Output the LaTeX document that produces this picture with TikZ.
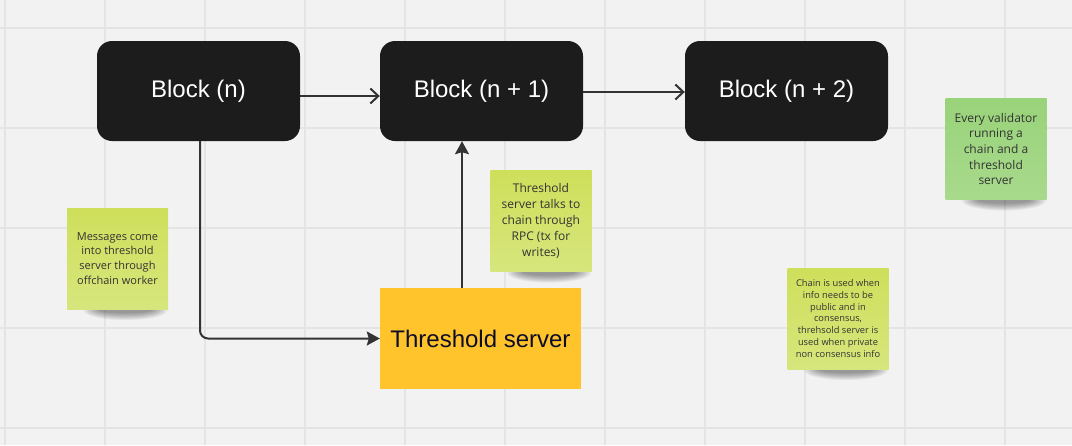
\documentclass[tikz,border=0pt]{standalone}
\usepackage{fontspec}
\setmainfont{Liberation Sans}
\newfontfamily\notefont{Open Sans}
\usetikzlibrary{backgrounds,arrows.meta}
\definecolor{boardbg}{HTML}{F2F2F2}
\definecolor{boardgrid}{HTML}{E4E4E4}
\definecolor{blockfill}{HTML}{1C1C1C}
\definecolor{serverfill}{HTML}{FFC42B}
\definecolor{servertext}{HTML}{0D0D26}
\definecolor{limetop}{HTML}{CEDF5B}
\definecolor{limebot}{HTML}{D7E67C}
\definecolor{greentop}{HTML}{99D37A}
\definecolor{greenbot}{HTML}{A8DA8C}
\definecolor{wire}{HTML}{333333}
\tikzset{
  block/.style = {
    rectangle, rounded corners=15pt, fill=blockfill, text=white,
    inner sep=0pt, minimum width=203pt, minimum height=100pt,
    font=\fontsize{24}{28}\selectfont
  },
  server/.style = {
    rectangle, fill=serverfill, text=servertext,
    inner sep=0pt, minimum width=201pt, minimum height=101pt,
    font=\fontsize{24}{28}\selectfont
  },
  sticky/.style = {
    rectangle, top color=limetop, bottom color=limebot,
    text=black!80, inner sep=0pt, align=center,
    minimum width=101pt, minimum height=101pt
  },
  gridline/.style = {boardgrid, line width=1.2pt}
}
\tikzset{>={Straight Barb[length=8pt,width=15pt,line width=2pt]}}
\newcommand{\noteshade}[1]{%
  \foreach \k in {0,...,9}
    \fill[black,opacity=0.045] ([xshift=8pt,yshift=-1pt]#1.south)
      ellipse ({42-1.8*\k} and {10-0.8*\k});
}

\begin{document}
\begin{tikzpicture}[x=1pt,y=-1pt]
  \useasboundingbox (0,0) rectangle (1072,445);
  % board
  \begin{scope}[on background layer]
    \fill[boardbg] (0,0) rectangle (1072,445);
    \foreach \x in {5,105,...,1005}
      \draw[gridline] (\x,0) -- (\x,445);
    \foreach \y in {28,128,...,428}
      \draw[gridline] (0,\y) -- (1072,\y);
  \end{scope}
  % blocks
  \node[block] (bn)  at (198.5,91) {Block (n)};
  \node[block] (bn1) at (481.5,91) {Block (n + 1)};
  \node[block] (bn2) at (786.5,91) {Block (n + 2)};
  \node[server] (ts) at (480.5,338.5) {Threshold server};
  % notes
  \node[sticky, font=\notefont\fontsize{11}{14.8}\selectfont] (msg) at (117.5,258.5)
    {Messages come\\into threshold\\server through\\offchain worker};
  \node[sticky, font=\notefont\fontsize{12}{16}\selectfont] (rpc) at (541,221)
    {Threshold\\server talks to\\chain through\\RPC (tx for\\writes)};
  \node[sticky, font=\notefont\fontsize{9.3}{11.7}\selectfont] (use) at (838,318.5)
    {Chain is used when\\info needs to be\\public and in\\consensus,\\threhsold server is\\used when private\\non consensus info};
  \node[sticky, top color=greentop, bottom color=greenbot,
        font=\notefont\fontsize{12}{15.6}\selectfont] (val) at (996,149)
    {Every validator\\running a\\chain and a\\threshold\\server};
  \begin{scope}[on background layer]
    \noteshade{msg}
    \noteshade{rpc}
    \noteshade{use}
    \noteshade{val}
  \end{scope}
  % arrows
  \draw[->,wire,line width=2pt] ([yshift=-5pt]bn.east) -- ([yshift=-5pt]bn1.west);
  \draw[->,wire,line width=2pt] ([yshift=-1pt]bn1.east) -- ([yshift=-1pt]bn2.west);
  \draw[-{Stealth[length=13pt,width=14pt,inset=2pt]},wire,line width=2pt,rounded corners=8pt]
    ([xshift=1.5pt]bn.south) |- (ts.west);
  \draw[-{Stealth[length=13pt,width=14pt,inset=2pt]},wire,line width=2pt]
    ([xshift=-18.5pt]ts.north) -- ([xshift=-18.5pt]ts.north |- bn1.south);
\end{tikzpicture}
\end{document}
